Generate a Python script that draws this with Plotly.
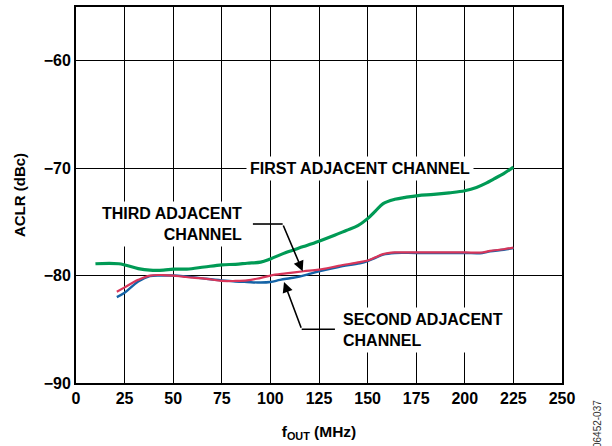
import plotly.graph_objects as go

# First adjacent channel (green)
first_x = [10, 22, 32, 38, 45, 50, 57, 66, 75, 82, 88, 95, 100, 108, 117, 125, 133, 139, 145, 150, 154, 158, 164, 170, 176, 184, 192, 200, 206, 211, 215, 220, 225]
first_y = [-78.9, -78.9, -79.35, -79.5, -79.5, -79.4, -79.4, -79.2, -79.0, -78.95, -78.85, -78.75, -78.45, -77.85, -77.3, -76.8, -76.25, -75.8, -75.35, -74.7, -74.0, -73.3, -72.9, -72.7, -72.55, -72.45, -72.3, -72.1, -71.8, -71.4, -71.0, -70.5, -69.9]

# Third adjacent channel (red)
third_x = [21, 25, 32, 38, 45, 50, 55, 60, 67, 75, 82, 88, 93, 100, 108, 117, 125, 135, 146, 150, 154, 158, 164, 175, 190, 200, 209, 213, 220, 225]
third_y = [-81.5, -81.1, -80.4, -80.0, -79.95, -80.0, -80.1, -80.2, -80.3, -80.5, -80.5, -80.45, -80.3, -80.0, -79.8, -79.6, -79.45, -79.1, -78.75, -78.6, -78.3, -78.0, -77.85, -77.85, -77.85, -77.85, -77.85, -77.7, -77.55, -77.4]

# Second adjacent channel (blue)
second_x = [21, 25, 32, 38, 45, 50, 55, 60, 67, 75, 82, 88, 95, 100, 105, 110, 115, 120, 125, 135, 146, 150, 154, 158, 164, 175, 190, 200, 209, 213, 220, 225]
second_y = [-82.0, -81.6, -80.55, -80.05, -80.0, -80.0, -80.05, -80.15, -80.3, -80.45, -80.55, -80.6, -80.65, -80.6, -80.4, -80.25, -80.1, -79.85, -79.6, -79.2, -78.85, -78.65, -78.35, -78.05, -77.9, -77.9, -77.9, -77.9, -77.9, -77.75, -77.6, -77.45]

x_ticks = [0, 25, 50, 75, 100, 125, 150, 175, 200, 225, 250]
y_ticks = [-90, -80, -70, -60]
y_tick_labels = ["\u221290", "\u221280", "\u221270", "\u221260"]

FONT = "Liberation Sans, Arial, sans-serif"
GREEN = "#009a55"
RED = "#d8365a"
BLUE = "#1463a6"

fig = go.Figure()
fig.add_trace(go.Scatter(x=first_x, y=first_y, mode="lines",
                         line=dict(color=GREEN, width=3.2), line_shape="spline",
                         name="FIRST ADJACENT CHANNEL"))
fig.add_trace(go.Scatter(x=second_x, y=second_y, mode="lines",
                         line=dict(color=BLUE, width=2.4), line_shape="spline",
                         name="SECOND ADJACENT CHANNEL"))
fig.add_trace(go.Scatter(x=third_x, y=third_y, mode="lines",
                         line=dict(color=RED, width=2.2), line_shape="spline",
                         name="THIRD ADJACENT CHANNEL"))

ann_font = dict(family=FONT, size=16, color="black")

annotations = [
    dict(x=146, y=-70, xref="x", yref="y", text="<b>FIRST ADJACENT CHANNEL</b>",
         showarrow=False, font=ann_font, bgcolor="white", borderpad=3,
         xanchor="center", yanchor="middle"),
    dict(x=87.5, y=-75.2, xref="x", yref="y", text="<b>THIRD ADJACENT<br>CHANNEL</b>",
         showarrow=False, font=ann_font, bgcolor="white", align="right",
         xanchor="right", yanchor="middle", borderpad=3),
    dict(x=135.5, y=-85.1, xref="x", yref="y", text="<b>SECOND ADJACENT<br>CHANNEL</b>",
         showarrow=False, font=ann_font, bgcolor="white", align="left",
         xanchor="left", yanchor="middle", borderpad=3),
    # arrows
    dict(x=116.6, y=-79.6, xref="x", yref="y", ax=106.3, ay=-75.2, axref="x", ayref="y",
         text="", showarrow=True, arrowhead=2, arrowsize=1.3, arrowwidth=1.6, arrowcolor="black"),
    dict(x=107.0, y=-80.6, xref="x", yref="y", ax=116.1, ay=-85.0, axref="x", ayref="y",
         text="", showarrow=True, arrowhead=2, arrowsize=1.3, arrowwidth=1.6, arrowcolor="black"),
    # watermark
    dict(x=1.072, y=-0.04, xref="paper", yref="paper", text="06452-037",
         showarrow=False, textangle=-90, font=dict(family=FONT, size=10, color="#333333"),
         xanchor="center", yanchor="top"),
]

shapes = [
    dict(type="line", xref="x", yref="y", x0=91, y0=-75.2, x1=106.3, y1=-75.2,
         line=dict(color="black", width=1.6), layer="above"),
    dict(type="line", xref="x", yref="y", x0=133.2, y0=-85.0, x1=116.1, y1=-85.0,
         line=dict(color="black", width=1.6), layer="above"),
]

fig.update_layout(
    width=612, height=446,
    margin=dict(l=76, r=50, t=7, b=63, autoexpand=False),
    paper_bgcolor="white", plot_bgcolor="white",
    showlegend=False,
    font=dict(family=FONT, size=16, color="black"),
    annotations=annotations,
    shapes=shapes,
    xaxis=dict(range=[0, 250], tickvals=x_ticks, ticktext=[f"<b>{v}</b>" for v in x_ticks],
               showgrid=True, gridcolor="black", gridwidth=1.2,
               showline=True, linecolor="black", linewidth=2, mirror=True,
               ticks="", zeroline=False, automargin=False,
               title=dict(text="<b>f<sub>OUT</sub> (MHz)</b>", font=dict(family=FONT, size=15.5), standoff=20),
               tickfont=dict(family=FONT, size=16)),
    yaxis=dict(range=[-90, -55], tickvals=y_ticks, ticktext=[f"<b>{t}</b>" for t in y_tick_labels],
               showgrid=True, gridcolor="black", gridwidth=1.2,
               showline=True, linecolor="black", linewidth=2, mirror=True,
               ticks="", zeroline=False, automargin=False,
               title=dict(text="<b>ACLR (dBc)</b>", font=dict(family=FONT, size=15), standoff=14),
               tickfont=dict(family=FONT, size=16)),
)

fig.write_html("out.html", config={"displayModeBar": False},
               post_script="document.body.style.margin='0';document.body.style.overflow='hidden';")
